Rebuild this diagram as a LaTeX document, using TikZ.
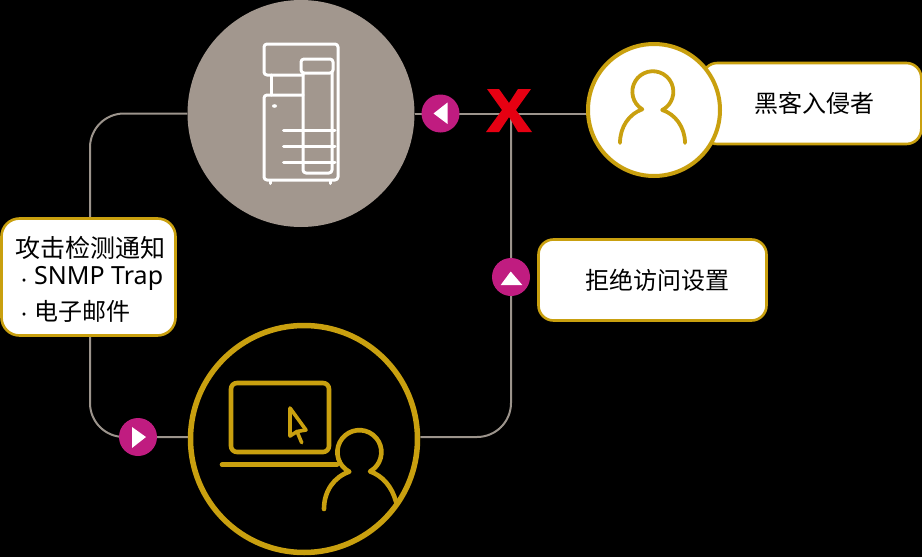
\documentclass[tikz,border=0pt]{standalone}
\usepackage{fontspec}
\setmainfont{Noto Sans}
\newfontfamily\cjk{Noto Sans CJK SC}
\usetikzlibrary{backgrounds}
\definecolor{goldc}{HTML}{C9A00F}
\definecolor{greyc}{HTML}{A2978E}
\definecolor{linec}{HTML}{9C948C}
\definecolor{magc}{HTML}{C01C80}
\definecolor{redx}{HTML}{E60012}
\tikzset{
  x=1pt,y=-1pt,
  conn/.style={draw=linec,line width=2pt},
  badge/.style={circle,fill=magc,minimum size=38pt,inner sep=0pt},
  label box/.style={draw=goldc,fill=white,line width=2.6pt,rounded corners=15pt,inner sep=0pt,font=\cjk\fontsize{24}{30}\selectfont,text=black},
  whiteicon/.style={draw=white,line width=3pt,line join=round,line cap=round},
  goldicon/.style={draw=goldc,line width=4.6pt,line join=round,line cap=round},
  goldthin/.style={draw=goldc,line width=3.8pt,line join=round,line cap=round},
}
\begin{document}
\begin{tikzpicture}
\useasboundingbox (0,0) rectangle (922,557);
\node[circle,fill=greyc,minimum size=227pt,inner sep=0pt] (printer) at (301,113.5) {};
\node[circle,draw=goldc,line width=5.5pt,minimum size=227pt,inner sep=0pt] (pc) at (304,439) {};
\node[label box,minimum width=219pt,minimum height=81pt,anchor=west] (hackerlabel) at (701,103.5) {\hspace*{6pt}黑客入侵者};
\node[circle,fill=white,draw=goldc,line width=4pt,minimum size=132pt,inner sep=0pt] (hacker) at (654,110) {};
\node[label box,minimum width=228pt,minimum height=81pt] (denylabel) at (652.5,280) {\hspace*{9pt}拒绝访问设置};
\node[label box,rounded corners=18pt,minimum width=174pt,minimum height=117pt] (notice) at (88.5,277) {};
\node[anchor=west,inner sep=0pt,font=\cjk\fontsize{25}{30}\selectfont] (noticea) at (15,248) {攻击检测通知};
\node[anchor=west,inner sep=0pt,font=\fontsize{22.5}{30}\selectfont] (dota) at (21,284) {·};
\node[anchor=west,inner sep=0pt,font=\fontsize{25}{30}\selectfont] (noticeb) at (34,278) {SNMP Trap};
\node[anchor=west,inner sep=0pt,font=\fontsize{22.5}{30}\selectfont] (dotb) at (21,318) {·};
\node[anchor=west,inner sep=0pt,font=\cjk\fontsize{24}{30}\selectfont] (noticec) at (34,311) {电子邮件};
\node[badge] (b1) at (440.5,113.5) {};
\node[badge] (b2) at (511,277) {};
\node[badge] (b3) at (138,437) {};
\coordinate (cross) at (511,113.5);
\begin{scope}[on background layer]
\fill[black] (0,0) rectangle (922,557);
\draw[conn] (printer.east) -- (hacker.west |- printer.east);
\draw[conn,rounded corners=34pt] (cross) -- (511,437) -- (pc.east |- 0,437);
\draw[conn,rounded corners=34pt] (printer.west) -- (90,113.5) -- (90,437) -- (pc.west |- 0,437);
\end{scope}
% badge arrows
\fill[white] (433.5,113.5) -- (447.5,102.5) -- (447.5,124) -- cycle;
\fill[white] (510.7,271.5) -- (522.3,285) -- (500.7,285) -- cycle;
\fill[white] (132,427) -- (146,437) -- (132,448) -- cycle;
% red X
\fill[redx] (487,89) -- (499,89) -- (509,103) -- (518,89) -- (531,89) -- (516,110) -- (532,132) -- (518,132) -- (509,117) -- (499,132) -- (486,132) -- (502,110) -- cycle;
% printer icon
\begin{scope}[whiteicon,rounded corners=3pt]
\draw (303,75) -- (264,75) -- (264,44) -- (338,44) -- (338,180) -- (264,180) -- (264,95) -- (303,95);
\draw (271,75) -- (271,95);
\draw (301,73) -- (301,59) -- (333,59) -- (333,73) -- cycle;
\draw (303,73) -- (303,173) -- (332,173) -- (332,73);
\end{scope}
\foreach \yy in {130,146,162} \draw[whiteicon] (283.5,\yy) -- (335,\yy);
\fill[white] (274.5,106) ellipse (2.5 and 1.8);
\draw[whiteicon] (270.7,181) -- (270.7,183.5);
\draw[whiteicon] (330.7,181) -- (330.7,183.5);
% hacker icon
\draw[goldthin] (620,143) .. controls (620,127) and (629,114) .. (642.3,109.3)
  arc[start angle=-239,end angle=63,radius=20.5]
  .. controls (675,114) and (685,127) .. (685,143);
% pc icon
\draw[goldicon,rounded corners=6pt] (231,383) rectangle (329,452);
\draw[goldicon,line width=3.6pt] (290,408) -- (306,430) -- (297,431.5) -- (290,436) -- cycle (297,431.5) -- (301.7,442.7);
\draw[goldicon] (222,464.7) -- (337,464.7);
\draw[goldicon] (324,509) .. controls (324,491) and (334,477) .. (349.3,471.7)
  arc[start angle=-242.7,end angle=61,radius=22]
  .. controls (383,476) and (392,487) .. (396,501.7);
\end{tikzpicture}
\end{document}
